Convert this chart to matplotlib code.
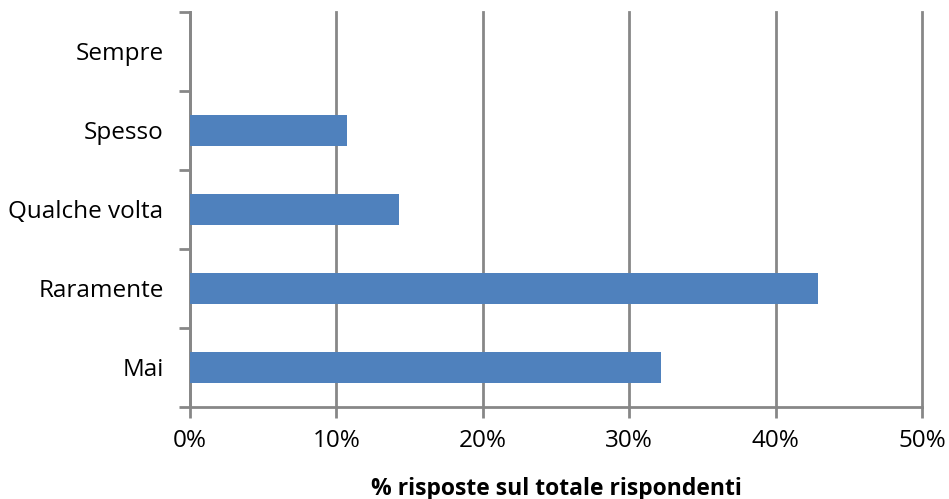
import matplotlib
matplotlib.use("Agg")
import matplotlib.pyplot as plt
from matplotlib.ticker import FixedLocator, PercentFormatter

categories = ["Mai", "Raramente", "Qualche volta", "Spesso", "Sempre"]
values = [32.2, 42.9, 14.3, 10.7, 0.0]
xticks = [0, 10, 20, 30, 40, 50]

plt.rcParams['font.family'] = ['Open Sans', 'DejaVu Sans']
fig = plt.figure(figsize=(9.49, 4.99), dpi=100)
ax = fig.add_axes([0.2002, 0.1844, 0.9715 - 0.2002, 0.976 - 0.1844])

pos = list(range(len(categories)))
ax.barh(pos, values, height=0.4, color="#4F81BD", zorder=3)

ax.set_xlim(0, 50)
ax.set_ylim(-0.5, len(categories) - 0.5)
gray = "#878787"
ax.set_xticks(xticks)
ax.xaxis.set_major_formatter(PercentFormatter(decimals=0))
ax.grid(axis="x", color=gray, linewidth=2, zorder=1)
for gl in ax.get_xgridlines():
    gl.set_clip_on(False)
ax.set_axisbelow(True)

ax.yaxis.set_major_locator(FixedLocator([p - 0.5 for p in range(len(categories) + 1)]))
ax.yaxis.set_minor_locator(FixedLocator(pos))
ax.set_yticklabels([], minor=False)
ax.set_yticklabels(categories, minor=True)
ax.tick_params(axis="y", which="minor", length=0, labelsize=17.5, pad=19)
ax.tick_params(axis="y", which="major", length=8, width=2, color=gray, direction="out")
ax.tick_params(axis="x", length=8, width=2, color=gray, direction="out", labelsize=17.5, pad=8)

for s in ["top", "right"]:
    ax.spines[s].set_visible(False)
for s in ["left", "bottom"]:
    ax.spines[s].set_color(gray)
    ax.spines[s].set_linewidth(2)

ax.set_xlabel("% risposte sul totale rispondenti", fontsize=16.5, fontweight="bold", labelpad=17)

fig.savefig("out.png", dpi=100)
